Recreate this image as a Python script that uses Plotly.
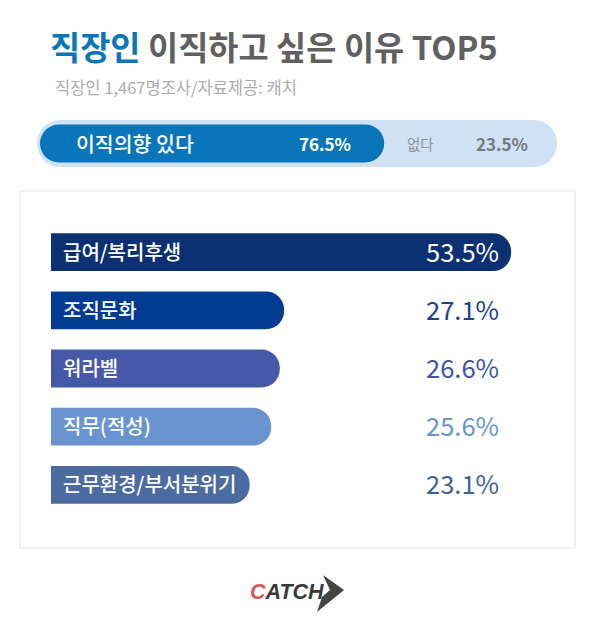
import plotly.graph_objects as go

FONT = "Noto Sans CJK KR"

reasons = ["급여/복리후생", "조직문화", "워라벨", "직무(적성)", "근무환경/부서분위기"]
shares = [53.5, 27.1, 26.6, 25.6, 23.1]
bar_colors = ["#0b3172", "#023c92", "#4659a8", "#6a94d0", "#4c6ba0"]
value_colors = ["white", "#1c3f8f", "#3d55a3", "#6a94d0", "#3f5f9a"]

intent_yes = 76.5
intent_no = 23.5
track_start = -0.67
track_end = 114.9

W, H = 600, 627


def px(x):
    return x / W


def py(y):
    return 1 - y / H


def pill(start, end, width, color, radius):
    # a bar with an explicit base gets all four corners rounded
    fig.add_trace(go.Bar(x=[end - start], base=[start], y=["이직의향"], orientation="h", width=width,
                         marker=dict(color=color, cornerradius=radius, line_width=0),
                         xaxis="x2", yaxis="y2", hoverinfo="skip"))


fig = go.Figure()

pill(track_start, track_end, 1, "#cfe2f4", 23)
pill(0, intent_yes, 0.81, "#0a76b9", 19)

fig.add_trace(go.Bar(x=shares, y=reasons, orientation="h", width=0.65,
                     marker=dict(color=bar_colors, cornerradius=19, line_width=0),
                     hoverinfo="skip"))

annotations = []
for name, share, col in zip(reasons, shares, value_colors):
    annotations.append(dict(x=0, y=name, xref="x", yref="y", xshift=10, yshift=1, text=name,
                            xanchor="left", showarrow=False,
                            font=dict(family=FONT, size=20, color="white", weight=500)))
    annotations.append(dict(x=px(501), y=name, xref="paper", yref="y", yshift=2, text="%.1f%%" % share,
                            xanchor="right", showarrow=False,
                            font=dict(family=FONT, size=25.5, color=col)))


def note(x, y, text, size, color, anchor="left", family=FONT, weight=None):
    annotations.append(dict(x=px(x), y=py(y), xref="paper", yref="paper", text=text,
                            xanchor=anchor, yanchor="middle", showarrow=False,
                            font=dict(family=family, size=size, color=color, weight=weight)))


note(48, 46, "<span style='color:#0a76b9'>직장인</span> 이직하고 싶은 이유 TOP5", 32.8, "#606060", weight=700)
note(53, 87, "직장인 1,467명조사/자료제공: 캐치", 16.5, "#acacac")
note(74, 143, "이직의향 있다", 20.5, "white", weight=500)
note(353, 144, "%.1f%%" % intent_yes, 17, "white", "right", weight=700)
note(405, 143, "없다", 14.5, "#8d949b")
note(530, 144, "%.1f%%" % intent_no, 17, "#737a82", "right", weight=700)
note(248, 592, "<b><i><span style='color:#d9565c'>C</span>ATCH</i></b>", 21.5, "#3a3a3a", family="Liberation Sans")

fig.update_layout(
    width=W, height=H, margin=dict(l=0, r=0, t=0, b=0),
    paper_bgcolor="#fefefe", plot_bgcolor="rgba(0,0,0,0)",
    barmode="overlay", showlegend=False, annotations=annotations,
    xaxis=dict(domain=[px(51), px(567)], range=[0, 60], visible=False),
    yaxis=dict(domain=[py(514), py(223)], range=[4.5, -0.5], visible=False,
               categoryorder="array", categoryarray=reasons),
    xaxis2=dict(domain=[px(37), px(557)], range=[track_start, track_end], visible=False, anchor="y2"),
    yaxis2=dict(domain=[py(167), py(120)], range=[-0.5, 0.5], visible=False, anchor="x2"),
    shapes=[
        dict(type="rect", xref="paper", yref="paper", x0=px(20), x1=px(575), y0=py(548), y1=py(191),
             line=dict(color="#e6e6e6", width=1), fillcolor="white", layer="below"),
        dict(type="path", xref="paper", yref="paper", fillcolor="#444444", line_width=0,
             path="M %f %f L %f %f L %f %f L %f %f L %f %f Z" % (
                 px(323), py(575), px(344), py(590), px(317), py(612),
                 px(322), py(597), px(330), py(590))),
    ],
)

fig.write_html("out.html", config=dict(displayModeBar=False), post_script="document.body.style.margin='0';")
